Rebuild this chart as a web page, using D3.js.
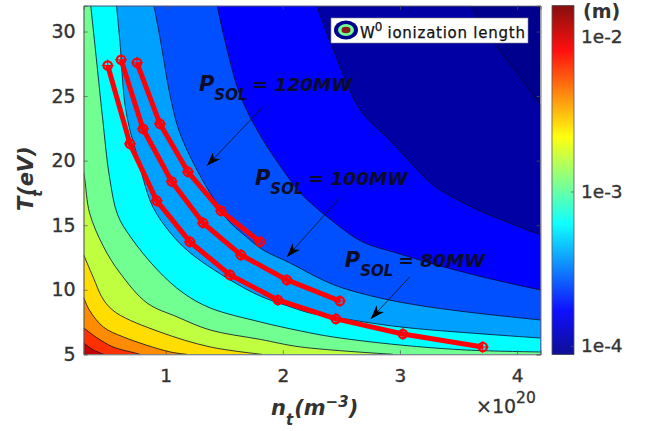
<!DOCTYPE html>
<html>
<head>
<meta charset="utf-8">
<script src="https://cdn.jsdelivr.net/npm/d3@7"></script>
<style>
  html, body { margin: 0; padding: 0; background: #fff; }
  text { font-family: "DejaVu Sans", sans-serif; }
</style>
</head>
<body>
<div id="chart"></div>
<script>
const nTicks = [1, 2, 3, 4];
const tTicks = [5, 10, 15, 20, 25, 30];
const cbarTicks = [1e-4, 1e-3, 1e-2];

// contour lines, [n_t / 1e20, T_t], outermost first
const contourA = [[3.61, 32], [3.83, 28.8], [4.0, 26.8], [4.2, 24.3]];
const contourB = [[2.29, 32], [2.43, 28.6], [2.66, 23.94], [2.91, 21.6], [3.25, 18.36], [3.34, 17.74], [3.66, 16.2], [4.2, 14.25]];
const contourC = [[1.44, 32], [1.49, 29.9], [1.61, 25.72], [1.69, 23.94], [1.83, 21.61], [2.0, 19.29], [2.15, 17.5], [2.38, 15.64], [2.68, 13.71], [2.97, 12.85], [3.25, 12.08], [3.57, 11.3], [3.85, 10.68], [4.2, 9.98]];
const contourD = [[0.9, 32], [0.95, 29.6], [1.04, 24.95], [1.12, 22.16], [1.28, 19.05], [1.4, 17.19], [1.53, 15.41], [1.69, 14.09], [1.83, 13.09], [2.06, 12.08], [2.34, 10.76], [2.51, 10.14], [2.83, 9.36], [3.14, 8.82], [3.57, 8.28], [4.2, 7.66]];
const contourE = [[0.58, 32], [0.61, 29.13], [0.65, 24.48], [0.7, 22.16], [0.76, 20.29], [0.81, 18.51], [0.89, 16.42], [1.04, 14.4], [1.21, 12.85], [1.55, 10.76], [1.81, 9.5], [2.04, 8.75], [2.23, 8.2], [2.43, 7.89], [3.0, 7.12], [3.6, 6.65], [4.2, 6.26]];
const contourF = [[0.36, 32], [0.4, 28.59], [0.46, 23.4], [0.52, 18.74], [0.59, 15.8], [0.7, 14.09], [0.93, 11.53], [1.15, 9.75], [1.38, 8.59], [1.81, 7.5], [2.15, 6.81], [2.43, 6.34], [3.0, 5.72], [3.57, 5.33], [4.2, 5.18]];
const contourG = [[0.3, 19.05], [0.31, 18.51], [0.35, 15.95], [0.47, 13.32], [0.61, 11.3], [0.84, 8.98], [1.1, 7.89], [1.38, 6.88], [1.81, 6.15], [2.15, 5.57], [2.94, 5]];
const contourH = [[0.3, 12.7], [0.38, 10.99], [0.47, 9.21], [0.58, 8.2], [0.95, 6.73], [1.38, 5.57], [1.82, 5]];
const contourI = [[0.3, 9.4], [0.35, 8.4], [0.47, 7.1], [0.64, 6.34], [1.03, 5.2], [1.18, 5]];
const contourJ = [[0.3, 7.05], [0.41, 6.3], [0.55, 5.57], [0.74, 5.1], [0.78, 5]];
const contourK = [[0.3, 5.88], [0.38, 5.35], [0.47, 5]];
const contours = [contourA, contourB, contourC, contourD, contourE, contourF, contourG, contourH, contourI, contourJ, contourK];

const baseColor = '#00008f';
const bandColors = ['#0000a4', '#0000ff', '#0050ff', '#00a0ff', '#00ffff', '#70ff90', '#c0ff40', '#ffdd00', '#ff8c00', '#ff3000', '#c80000'];

// P_SOL scans
const scan80 = [[0.505, 27.37], [0.695, 21.3], [0.923, 16.9], [1.207, 13.71], [1.549, 11.15], [1.958, 9.21], [2.453, 7.74], [3.025, 6.57], [3.707, 5.57]];
const scan100 = [[0.619, 27.81], [0.806, 22.47], [1.051, 18.38], [1.318, 15.18], [1.642, 12.7], [2.035, 10.76], [2.487, 9.13]];
const scan120 = [[0.755, 27.58], [0.951, 22.85], [1.19, 19.13], [1.472, 16.11], [1.805, 13.71]];

const labels = [
  { power: '120MW', at: [1.284, 25.41], from: [1.822, 24.09], to: [1.352, 19.6] },
  { power: '100MW', at: [1.762, 18.12], from: [2.487, 17.12], to: [2.035, 12.54] },
  { power: '80MW', at: [2.529, 11.77], from: [3.084, 11], to: [2.751, 7.74] }
];

const jetStops = [0, 0.125, 0.375, 0.625, 0.875, 1];
const jetColors = ['#00008f', '#0000ff', '#00ffff', '#ffff00', '#ff0000', '#800000'];

const width = 647;
const height = 431;
const plot = { left: 83.7, right: 540.5, top: 5.7, bottom: 354.3 };
const cbar = { left: 552, right: 574 };

const x = d3.scaleLinear().domain([0.3, 4.2]).range([plot.left, plot.right]);
const y = d3.scaleLinear().domain([5, 32]).range([plot.bottom, plot.top]);
const yBar = d3.scaleLog().domain([8.83e-5, 1.595e-2]).range([plot.bottom, plot.top]);
const jet = d3.scaleLinear().domain(jetStops).range(jetColors);

const svg = d3.select('#chart').append('svg')
  .attr('width', width)
  .attr('height', height)
  .style('display', 'block');

svg.append('clipPath').attr('id', 'plot-clip')
  .append('rect')
  .attr('x', plot.left).attr('y', plot.top)
  .attr('width', plot.right - plot.left).attr('height', plot.bottom - plot.top);

const defs = svg.append('defs');
defs.append('marker')
  .attr('id', 'head')
  .attr('viewBox', '0 0 14 10')
  .attr('refX', 14).attr('refY', 5)
  .attr('markerUnits', 'userSpaceOnUse')
  .attr('markerWidth', 14).attr('markerHeight', 10)
  .attr('orient', 'auto')
  .append('path')
  .attr('d', 'M0,0L14,5L0,10L4,5Z')
  .attr('fill', '#000');

const line = d3.line().x(d => x(d[0])).y(d => y(d[1]));
const smooth = d3.line().x(d => x(d[0])).y(d => y(d[1])).curve(d3.curveCatmullRom.alpha(0.5));

const field = svg.append('g').attr('clip-path', 'url(#plot-clip)');

field.append('rect')
  .attr('x', plot.left).attr('y', plot.top)
  .attr('width', plot.right - plot.left).attr('height', plot.bottom - plot.top)
  .attr('fill', baseColor);

// painter style: each band covers everything towards the lower left corner
field.selectAll('.band')
  .data(contours)
  .enter().append('path')
    .attr('class', 'band')
    .attr('d', d => smooth(d) + `L${plot.right},${plot.bottom}L${plot.left},${plot.bottom}L${plot.left},${plot.top}Z`)
    .attr('fill', (d, i) => bandColors[i]);

field.selectAll('.contour')
  .data(contours)
  .enter().append('path')
    .attr('class', 'contour')
    .attr('d', smooth)
    .attr('fill', 'none')
    .attr('stroke', '#0a0a2a')
    .attr('stroke-width', 0.8);

// colorbar
const cells = d3.range(0, 349);
svg.append('g').selectAll('rect')
  .data(cells)
  .enter().append('rect')
    .attr('x', cbar.left)
    .attr('width', cbar.right - cbar.left)
    .attr('y', d => plot.bottom - d - 1)
    .attr('height', 1.5)
    .attr('fill', d => jet(d / 348));

svg.append('rect')
  .attr('x', cbar.left).attr('y', plot.top)
  .attr('width', cbar.right - cbar.left).attr('height', plot.bottom - plot.top)
  .attr('fill', 'none').attr('stroke', '#555').attr('stroke-width', 0.8);

const styleAxis = (g, size) => {
  g.select('.domain').attr('stroke', '#555').attr('stroke-width', 0.8);
  g.selectAll('.tick line').attr('stroke', '#555').attr('stroke-width', 0.7);
  g.selectAll('.tick text')
    .attr('fill', '#333')
    .attr('stroke', '#333')
    .attr('stroke-width', 0.35)
    .attr('font-size', size);
};

svg.append('g')
  .attr('transform', `translate(0,${plot.bottom})`)
  .call(d3.axisBottom(x).tickValues(nTicks).tickFormat(d3.format('d')).tickSize(-4).tickPadding(15))
  .call(styleAxis, 18.5);

svg.append('g')
  .attr('transform', `translate(${plot.left},0)`)
  .call(d3.axisLeft(y).tickValues(tTicks).tickFormat(d3.format('d')).tickSize(-4).tickPadding(8))
  .call(styleAxis, 19);

svg.append('g')
  .attr('transform', `translate(${plot.right},0)`)
  .call(d3.axisRight(y).tickValues(tTicks).tickFormat('').tickSize(-4))
  .call(styleAxis, 18);

svg.append('g')
  .attr('transform', `translate(0,${plot.top})`)
  .call(d3.axisTop(x).tickValues(nTicks).tickFormat('').tickSize(-4))
  .call(styleAxis, 18);

svg.append('g')
  .attr('transform', `translate(${cbar.right},0)`)
  .call(d3.axisRight(yBar).tickValues(cbarTicks).tickFormat(d3.format('.0e')).tickSize(-3).tickPadding(7))
  .call(styleAxis, 18.5)
  .call(g => g.select('.domain').remove())
  .call(g => g.selectAll('.tick text').text(d => `1e-${Math.round(-Math.log10(d))}`));

// scans
const scans = [scan80, scan100, scan120];
field.selectAll('.scan')
  .data(scans)
  .enter().append('path')
    .attr('class', 'scan')
    .attr('d', line)
    .attr('fill', 'none')
    .attr('stroke', '#ff0008')
    .attr('stroke-width', 5)
    .attr('stroke-linejoin', 'round');

const marker = field.selectAll('.mark')
  .data(scans.flat())
  .enter().append('g')
    .attr('class', 'mark')
    .attr('transform', d => `translate(${x(d[0])},${y(d[1])})`);

marker.append('circle')
  .attr('r', 4.2)
  .attr('fill', 'none')
  .attr('stroke', '#ff0008')
  .attr('stroke-width', 2.2);

marker.append('path')
  .attr('d', 'M-6,0H6M0,-6V6')
  .attr('stroke', '#ff0008')
  .attr('stroke-width', 1.1);

// annotations
const note = svg.append('g').selectAll('g').data(labels).enter().append('g');

note.append('line')
  .attr('x1', d => x(d.from[0])).attr('y1', d => y(d.from[1]))
  .attr('x2', d => x(d.to[0])).attr('y2', d => y(d.to[1]))
  .attr('stroke', '#111').attr('stroke-width', 0.8)
  .attr('marker-end', 'url(#head)');

const noteText = note.append('text')
  .attr('x', d => x(d.at[0])).attr('y', d => y(d.at[1]))
  .attr('font-size', 18.5)
  .attr('font-style', 'italic')
  .attr('font-weight', 'bold')
  .attr('fill', '#0c0c28');
noteText.append('tspan').attr('font-size', 21).text('P');
noteText.append('tspan').attr('dy', 9).attr('font-size', 15).text('SOL');
noteText.append('tspan').attr('dy', -9).attr('dx', 5).text(d => `= ${d.power}`);

// legend
const legend = svg.append('g');
legend.append('rect')
  .attr('x', 331).attr('y', 18).attr('width', 197).attr('height', 25)
  .attr('fill', '#fff').attr('stroke', '#888').attr('stroke-width', 0.6);
[[12, 9.5, '#00008f'], [8, 6, '#70ff90'], [4.5, 3.2, '#8b1a1a']].forEach(e => {
  legend.append('ellipse')
    .attr('cx', 346).attr('cy', 30)
    .attr('rx', e[0]).attr('ry', e[1])
    .attr('fill', e[2]);
});
const legendText = legend.append('text')
  .attr('x', 360).attr('y', 38)
  .attr('font-size', 15)
  .attr('fill', '#111')
  .attr('stroke', '#111')
  .attr('stroke-width', 0.25);
legendText.append('tspan').text('W');
legendText.append('tspan').attr('dy', -7).attr('font-size', 12).text('0');
legendText.append('tspan').attr('dy', 7).attr('dx', 5).attr('letter-spacing', 0.75).text('ionization length');

// axis titles
const xTitle = svg.append('text')
  .attr('x', 271).attr('y', 415)
  .attr('font-size', 21).attr('font-style', 'italic').attr('font-weight', 'bold').attr('fill', '#333');
xTitle.append('tspan').text('n');
xTitle.append('tspan').attr('dy', 10).attr('font-size', 15).text('t');
xTitle.append('tspan').attr('dy', -10).attr('dx', 1).text('(m');
xTitle.append('tspan').attr('dy', -8).attr('font-size', 15).text('−3');
xTitle.append('tspan').attr('dy', 8).text(')');

const yTitle = svg.append('text')
  .attr('transform', 'translate(33,211) rotate(-90)')
  .attr('font-size', 21).attr('font-style', 'italic').attr('font-weight', 'bold').attr('fill', '#333');
yTitle.append('tspan').text('T');
yTitle.append('tspan').attr('dy', 9).attr('font-size', 14).text('t');
yTitle.append('tspan').attr('dy', -9).attr('dx', -6).text('(eV)');

const scale = svg.append('text')
  .attr('x', 476).attr('y', 413)
  .attr('font-size', 19).attr('fill', '#333').attr('stroke', '#333').attr('stroke-width', 0.3);
scale.append('tspan').text('×10');
scale.append('tspan').attr('dy', -10).attr('font-size', 15.5).text('20');

svg.append('text')
  .attr('x', 583).attr('y', 18)
  .attr('font-size', 19).attr('font-weight', 'bold').attr('fill', '#333')
  .text('(m)');
</script>
</body>
</html>
